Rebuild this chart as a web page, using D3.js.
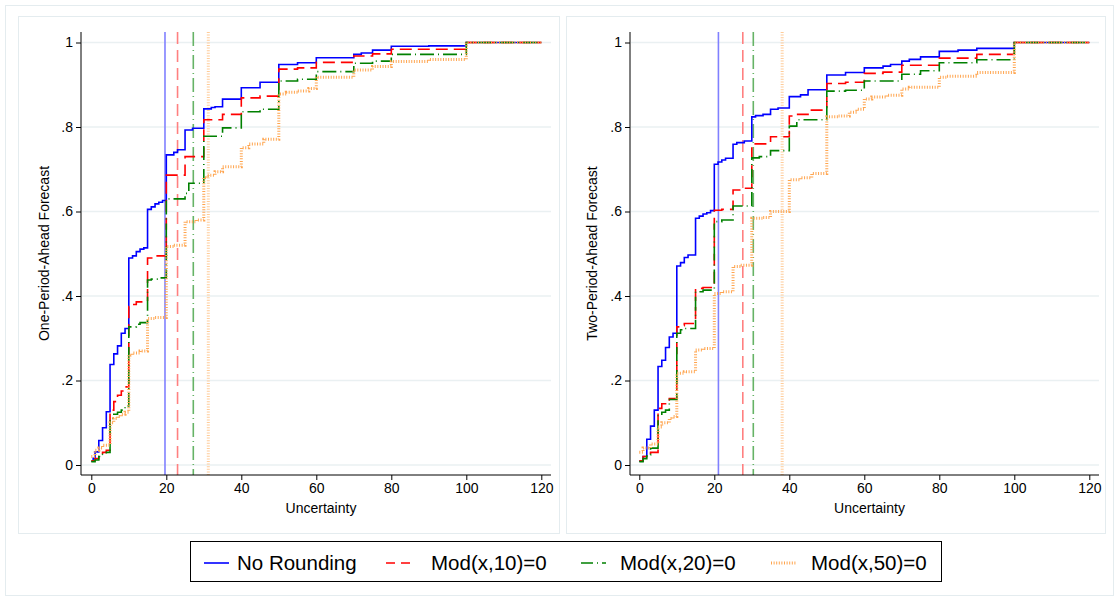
<!DOCTYPE html>
<html>
<head>
<meta charset="utf-8">
<script src="https://cdn.jsdelivr.net/npm/d3@7"></script>
<style>
  body { margin: 0; background: #fff; }
  text { font-family: "Liberation Sans", Arial, Helvetica, sans-serif; }
</style>
</head>
<body>
<svg id="chart" width="1119" height="601"></svg>
<script>
// series names and colours (legend order)
var seriesNames = ['No Rounding', 'Mod(x,10)=0', 'Mod(x,20)=0', 'Mod(x,50)=0'];
var lineColors = ['#0000ff', '#ff0000', '#008000', '#ffa54f'];
var refColors = ['#8080ff', '#ff8080', '#66b366', '#ffcc99'];
var dashes = [null, '12,6', '14,4,1,4', '1,1.6'];

var yTicks = [0, 0.2, 0.4, 0.6, 0.8, 1];
var xTicks = [0, 20, 40, 60, 80, 100, 120];

// empirical CDFs, [uncertainty, cumulative share] at each step
var oneNoRound = [[0,0.009],[0.5,0.016],[1,0.031],[2,0.058],[3,0.088],[4,0.126],[5,0.238],[6,0.263],[7,0.282],[8,0.312],[9,0.323],[10,0.49],[11,0.495],[12,0.505],[13,0.511],[14,0.514],[15,0.605],[16,0.611],[17,0.618],[18,0.622],[19,0.626],[20,0.734],[22,0.74],[23,0.746],[25,0.793],[27,0.797],[30,0.843],[32,0.846],[33,0.848],[35,0.866],[40,0.893],[45,0.906],[50,0.948],[55,0.952],[60,0.964],[70,0.972],[72,0.975],[75,0.982],[80,0.991],[90,0.992],[100,1]];
var oneMod10 = [[0,0.01],[1,0.015],[2,0.02],[3,0.03],[4,0.035],[5,0.13],[6,0.15],[7,0.165],[8,0.175],[9,0.185],[10,0.375],[11,0.38],[12,0.386],[15,0.49],[17,0.495],[20,0.686],[25,0.73],[30,0.817],[35,0.83],[40,0.869],[45,0.873],[50,0.937],[55,0.94],[60,0.953],[70,0.968],[75,0.973],[80,0.984],[100,1]];
var oneMod20 = [[0,0.008],[1,0.012],[2,0.02],[3,0.025],[4,0.03],[5,0.11],[6,0.12],[7,0.125],[8,0.13],[9,0.14],[10,0.327],[12,0.333],[13,0.337],[15,0.438],[16,0.44],[18,0.443],[20,0.63],[25,0.643],[26,0.667],[30,0.778],[35,0.798],[40,0.836],[45,0.842],[50,0.909],[55,0.913],[60,0.931],[70,0.951],[75,0.956],[80,0.972],[100,1]];
var oneMod50 = [[0,0.02],[1,0.035],[2,0.04],[3,0.047],[5,0.1],[6,0.11],[7,0.115],[8,0.12],[9,0.125],[10,0.26],[11,0.265],[13,0.27],[15,0.347],[17,0.349],[20,0.517],[22,0.52],[25,0.576],[28,0.58],[30,0.68],[31,0.686],[33,0.694],[35,0.706],[40,0.751],[42,0.76],[46,0.771],[50,0.878],[52,0.882],[55,0.885],[58,0.891],[60,0.918],[70,0.935],[75,0.943],[80,0.955],[90,0.96],[100,1]];

var twoNoRound = [[0,0.009],[1,0.02],[2,0.061],[3,0.092],[4,0.13],[5,0.233],[6,0.248],[7,0.278],[8,0.303],[9,0.312],[10,0.471],[11,0.479],[12,0.491],[13,0.497],[15,0.584],[16,0.589],[17,0.594],[18,0.597],[19,0.602],[20,0.712],[21,0.717],[22,0.722],[23,0.726],[25,0.759],[26,0.763],[28,0.767],[30,0.824],[31,0.827],[33,0.83],[35,0.842],[37,0.845],[40,0.872],[43,0.876],[45,0.888],[50,0.923],[55,0.929],[60,0.94],[65,0.944],[67,0.948],[70,0.956],[72,0.96],[75,0.966],[80,0.979],[85,0.982],[90,0.986],[100,1]];
var twoMod10 = [[0,0.01],[1,0.02],[2,0.028],[3,0.03],[5,0.134],[6,0.145],[7,0.154],[8,0.157],[10,0.327],[11,0.33],[12,0.335],[15,0.418],[17,0.42],[20,0.603],[22,0.605],[25,0.651],[27,0.655],[30,0.76],[35,0.777],[40,0.826],[42,0.83],[45,0.84],[50,0.903],[55,0.906],[60,0.927],[65,0.93],[70,0.946],[80,0.963],[90,0.972],[100,1]];
var twoMod20 = [[0,0.008],[1,0.015],[2,0.024],[3,0.04],[5,0.12],[6,0.125],[7,0.13],[8,0.155],[10,0.312],[11,0.32],[12,0.323],[15,0.41],[17,0.414],[20,0.576],[22,0.58],[25,0.613],[30,0.727],[32,0.73],[35,0.744],[40,0.802],[42,0.817],[50,0.885],[55,0.887],[60,0.909],[70,0.925],[75,0.933],[80,0.952],[90,0.959],[100,1]];
var twoMod50 = [[0,0.03],[1,0.04],[3,0.05],[5,0.09],[6,0.1],[8,0.11],[9,0.115],[10,0.217],[12,0.221],[15,0.272],[17,0.276],[20,0.406],[22,0.41],[25,0.47],[27,0.473],[30,0.584],[33,0.586],[35,0.6],[40,0.675],[43,0.68],[46,0.69],[50,0.824],[53,0.826],[56,0.835],[58,0.842],[60,0.866],[62,0.871],[66,0.875],[70,0.89],[72,0.894],[80,0.918],[82,0.92],[90,0.929],[100,1]];

// vertical reference lines (one per series)
var oneRefs = [19.65, 23.0, 27.2, 31.2];
var twoRefs = [21.1, 27.6, 30.4, 38.1];

var svg = d3.select('#chart');
var W = +svg.attr('width'), H = +svg.attr('height');

svg.append('rect').attr('x', 0).attr('y', 0).attr('width', W).attr('height', H).attr('fill', '#fff');
// graph frame and panel frames
svg.append('rect').attr('x', 5.5).attr('y', 5.5).attr('width', 1108).attr('height', 590)
  .attr('fill', 'none').attr('stroke', '#e4ecef');
svg.append('rect').attr('x', 18.5).attr('y', 16.5).attr('width', 541).attr('height', 517)
  .attr('fill', 'none').attr('stroke', '#e4ecef');
svg.append('rect').attr('x', 566.5).attr('y', 16.5).attr('width', 539).attr('height', 517)
  .attr('fill', 'none').attr('stroke', '#e4ecef');

var panels = [
  {left: 81, right: 551, x0: 91.3, title: 'One-Period-Ahead Forecast', titleX: 49,
   series: [oneNoRound, oneMod10, oneMod20, oneMod50], refs: oneRefs},
  {left: 630, right: 1099, x0: 639.3, title: 'Two-Period-Ahead Forecast', titleX: 597,
   series: [twoNoRound, twoMod10, twoMod20, twoMod50], refs: twoRefs}
];

var plotTop = 32, plotBottom = 475;

panels.forEach(function(p) {
  var x = d3.scaleLinear().domain([0, 120]).range([p.x0, p.x0 + 450]);
  var y = d3.scaleLinear().domain([0, 1]).range([465, 42.5]);
  var g = svg.append('g');

  // gridlines
  g.selectAll('.grid').data(yTicks).enter().append('line')
    .attr('x1', p.left + 1).attr('x2', p.right)
    .attr('y1', function(d) { return y(d); }).attr('y2', function(d) { return y(d); })
    .attr('stroke', '#eaf0f2').attr('stroke-width', 1.5);

  // reference lines sit under the curves
  g.selectAll('.ref').data(p.refs).enter().append('line')
    .attr('x1', function(d) { return x(d); }).attr('x2', function(d) { return x(d); })
    .attr('y1', plotTop).attr('y2', plotBottom)
    .attr('stroke', function(d, i) { return refColors[i]; })
    .attr('stroke-width', function(d, i) { return i == 3 ? 3 : 1.6; })
    .attr('stroke-dasharray', function(d, i) { return dashes[i]; });

  var line = d3.line()
    .x(function(d) { return x(d[0]); })
    .y(function(d) { return y(d[1]); })
    .curve(d3.curveStepAfter);

  p.series.forEach(function(s, i) {
    var pts = s.concat([[120, s[s.length - 1][1]]]);
    g.append('path').datum(pts)
      .attr('d', line)
      .attr('fill', 'none')
      .attr('stroke', lineColors[i])
      .attr('stroke-width', i == 3 ? 3 : 1.6)
      .attr('stroke-dasharray', dashes[i]);
  });

  // axes
  var yAxis = d3.axisLeft(y).tickValues(yTicks).tickSize(5).tickSizeOuter(0)
    .tickFormat(function(d) { return d == 0 ? '0' : d == 1 ? '1' : d3.format('.1f')(d).replace(/^0/, ''); });
  var ya = g.append('g').attr('transform', 'translate(' + p.left + ',0)').call(yAxis);
  ya.select('.domain').remove();
  ya.selectAll('text').attr('font-size', 14).attr('fill', '#000').attr('x', -8);
  ya.selectAll('line').attr('stroke', '#000');
  g.append('line').attr('x1', p.left).attr('x2', p.left).attr('y1', plotTop).attr('y2', plotBottom)
    .attr('stroke', '#000').attr('stroke-width', 1);

  var xAxis = d3.axisBottom(x).tickValues(xTicks).tickSize(5).tickSizeOuter(0);
  var xa = g.append('g').attr('transform', 'translate(0,' + plotBottom + ')').call(xAxis);
  xa.select('.domain').remove();
  xa.selectAll('text').attr('font-size', 14).attr('fill', '#000').attr('y', 8);
  xa.selectAll('line').attr('stroke', '#000');
  g.append('line').attr('x1', p.left).attr('x2', p.right).attr('y1', plotBottom).attr('y2', plotBottom)
    .attr('stroke', '#000').attr('stroke-width', 1);

  g.append('text').attr('x', (p.left + p.right) / 2 + 5).attr('y', 513)
    .attr('text-anchor', 'middle').attr('font-size', 14).text('Uncertainty');
  g.append('text')
    .attr('transform', 'translate(' + p.titleX + ',' + ((plotTop + plotBottom) / 2) + ') rotate(-90)')
    .attr('text-anchor', 'middle').attr('font-size', 14).text(p.title);
});

// legend
var legend = svg.append('g');
legend.append('rect').attr('x', 190.5).attr('y', 541.5).attr('width', 751).attr('height', 40)
  .attr('fill', '#fff').attr('stroke', '#000');
var legX = [204, 386, 581, 771];
var legTextX = [237, 431, 620, 811];
seriesNames.forEach(function(name, i) {
  legend.append('line').attr('x1', legX[i]).attr('x2', legX[i] + 25).attr('y1', 563).attr('y2', 563)
    .attr('stroke', lineColors[i]).attr('stroke-width', i == 3 ? 3 : 1.6)
    .attr('stroke-dasharray', i == 1 ? '9,6' : i == 2 ? '12,4,1,4' : dashes[i]);
  legend.append('text').attr('x', legTextX[i]).attr('y', 570).attr('font-size', 20.5).text(name);
});
</script>
</body>
</html>
